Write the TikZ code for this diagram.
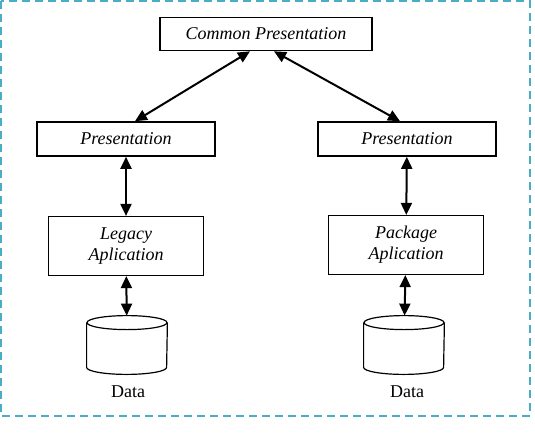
\documentclass[tikz,border=0pt]{standalone}
\usepackage{fontspec}
\setmainfont{Liberation Serif}
\usepackage{tikz}
\usetikzlibrary{arrows.meta}
\definecolor{frameblue}{RGB}{75,172,198}

\begin{document}
\begin{tikzpicture}[x=0.5pt,y=-0.5pt,
	layer/.style={draw, line width=0.8pt, font=\fontsize{9}{10.5}\selectfont\itshape, align=center, inner sep=0pt},
	store/.style={minimum width=40pt, minimum height=29pt, inner sep=0pt},
	link/.style={{Triangle[length=6pt,width=5.5pt]}-{Triangle[length=6pt,width=5.5pt]}, line width=1pt}]
	\useasboundingbox (0,0) rectangle (535,434);
	\draw[frameblue, line width=0.9pt, dash pattern=on 4pt off 2.5pt] (1,1) rectangle (530,416);

	\node[layer, minimum width=106pt, minimum height=16.5pt] (cp) at (266,34) {Common Presentation};
	\node[layer, minimum width=89pt, minimum height=17pt] (pl) at (126,139) {Presentation};
	\node[layer, minimum width=89pt, minimum height=17pt] (pr) at (407,139) {Presentation};
	\node[layer, line width=0.6pt, minimum width=77.5pt, minimum height=29.5pt] (la) at (126,246) {Legacy\\Aplication};
	\node[layer, line width=0.6pt, minimum width=77.5pt, minimum height=29.5pt] (pa) at (406,245) {Package\\Aplication};
	\node[store] (dl) at (127,345) {};
	\node[store] (dr) at (404,345) {};
	\node[font=\fontsize{9}{10.5}\selectfont] (tl) at (128,392) {Data};
	\node[font=\fontsize{9}{10.5}\selectfont] (tr) at (407,392) {Data};

	% data stores
	\foreach \db in {dl,dr} {
		\draw[line width=0.6pt] ([yshift=-3.5pt]\db.north) ellipse (20pt and 3.5pt);
		\draw[line width=0.6pt] ([yshift=-3.5pt]\db.north west) -- ([yshift=3.5pt]\db.south west)
			arc[start angle=180, end angle=360, x radius=20pt, y radius=3.5pt] -- ([yshift=-3.5pt]\db.north east);
	}

	% upper links
	\draw[link] ([xshift=-8pt]cp.south) -- ([xshift=4.5pt]pl.north);
	\draw[link] ([xshift=4pt]cp.south) -- ([xshift=-3.5pt]pr.north);
	% left column
	\draw[link] (pl) -- (la);
	\draw[link] (la) -- (dl);
	% right column
	\draw[link] (pr) -- (pa);
	\draw[link] (pa) -- (dr);
\end{tikzpicture}
\end{document}
